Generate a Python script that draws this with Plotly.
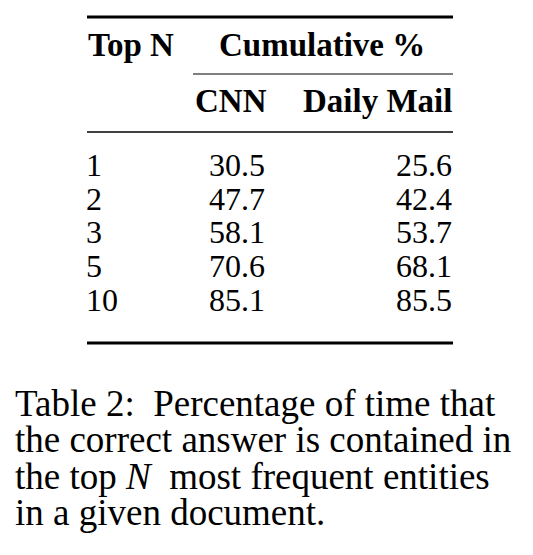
import plotly.graph_objects as go

top_n = ["1", "2", "3", "5", "10"]
cnn = [30.5, 47.7, 58.1, 70.6, 85.1]
daily_mail = [25.6, 42.4, 53.7, 68.1, 85.5]
caption = ["Table 2:  Percentage of time that",
           "the correct answer is contained in",
           "the top <i>N</i>  most frequent entities",
           "in a given document."]

FONT = "Liberation Serif"
fig = go.Figure()
ann = []

def txt(x, y, s, anchor="left", size=32, bold=False):
    if bold:
        s = "<b>" + s + "</b>"
    ann.append(dict(x=x, y=y, xref="x", yref="y", text=s, showarrow=False,
                    xanchor=anchor, yanchor="middle",
                    font=dict(family=FONT, size=size, color="black")))

# header
txt(86, 45, "Top N", bold=True, size=33)
txt(322, 45, "Cumulative %", anchor="center", bold=True, size=33)
txt(231, 101, "CNN", anchor="center", bold=True, size=33)
txt(454, 101, "Daily Mail", anchor="right", bold=True, size=33)

row_y0, row_dy = 165, 33.7
for i, (n, c, d) in enumerate(zip(top_n, cnn, daily_mail)):
    y = row_y0 + i * row_dy
    txt(84, y, n)
    txt(237, y, f"{c:.1f}", anchor="center")
    txt(454, y, f"{d:.1f}", anchor="right")

cap_y0, cap_dy = 403, 36.5
for i, line in enumerate(caption):
    txt(13, cap_y0 + i * cap_dy, line, size=37)

shapes = [
    dict(type="line", x0=87, x1=453, y0=17, y1=17, line=dict(color="black", width=3)),
    dict(type="line", x0=193, x1=453, y0=74, y1=74, line=dict(color="black", width=1.2)),
    dict(type="line", x0=87, x1=453, y0=132, y1=132, line=dict(color="black", width=1.5)),
    dict(type="line", x0=87, x1=453, y0=343, y1=343, line=dict(color="black", width=3)),
]
for s in shapes:
    s.update(xref="x", yref="y")

# page body has an 8px margin, so shift the axes to compensate
fig.update_layout(
    width=533, height=555, margin=dict(l=0, r=0, t=0, b=0),
    paper_bgcolor="white", plot_bgcolor="white",
    xaxis=dict(range=[8, 541], visible=False, fixedrange=True),
    yaxis=dict(range=[563, 8], visible=False, fixedrange=True),
    annotations=ann, shapes=shapes, showlegend=False,
)
fig.write_html("out.html")
